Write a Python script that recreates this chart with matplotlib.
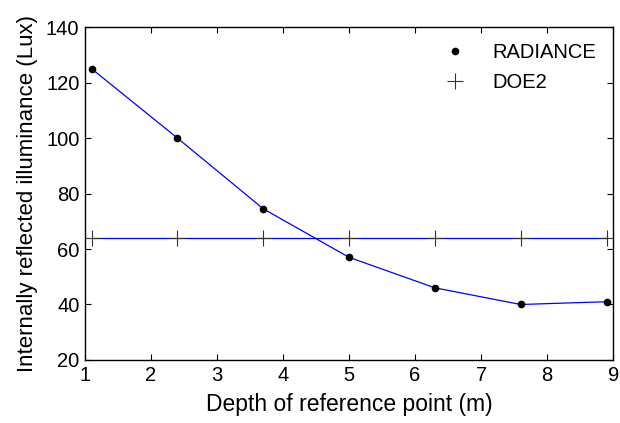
import matplotlib
matplotlib.use("Agg")
import matplotlib.pyplot as plt
from matplotlib.lines import Line2D

plt.rcParams.update({
    "font.family": ["Liberation Sans", "DejaVu Sans"],
    "font.size": 14,
})

depth = [1.1, 2.4, 3.7, 5.0, 6.3, 7.6, 8.9]
radiance = [125, 100, 74.5, 57, 46, 40, 41]
doe2 = [64, 64, 64, 64, 64, 64, 64]

fig = plt.figure(figsize=(6.2, 4.23), dpi=100)
ax = fig.add_axes([0.137, 0.149, 0.852, 0.787])

ax.plot(depth, radiance, color="blue", lw=0.9)
ax.plot(depth, radiance, ls="none", marker="o", ms=4.5, color="black")
ax.plot(depth, doe2, color="blue", lw=0.9)
ax.plot(depth, doe2, ls="none", marker="+", ms=11, mew=0.8, color="#333333")

ax.set_xlim(1, 9)
ax.set_ylim(20, 140)
ax.set_xticks(range(1, 10))
ax.set_yticks(range(20, 141, 20))
ax.tick_params(direction="in", top=True, right=True, length=4, width=0.8, labelsize=14.5, pad=4)
for s in ax.spines.values():
    s.set_linewidth(1.0)
ax.set_xlabel("Depth of reference point (m)", fontsize=16.5, labelpad=6)
ax.set_ylabel("Internally reflected illuminance (Lux)", fontsize=16, labelpad=6)

handles = [Line2D([], [], ls="none", marker="o", ms=4.5, color="black"),
           Line2D([], [], ls="none", marker="+", ms=11, mew=0.8, color="#333333")]
ax.legend(handles, ["RADIANCE", "DOE2"], loc="upper right", frameon=False, fontsize=14.5,
          handletextpad=0.85, labelspacing=0.55, borderaxespad=0.4, bbox_to_anchor=(0.998, 1.0))

fig.savefig("out.png", dpi=100)
